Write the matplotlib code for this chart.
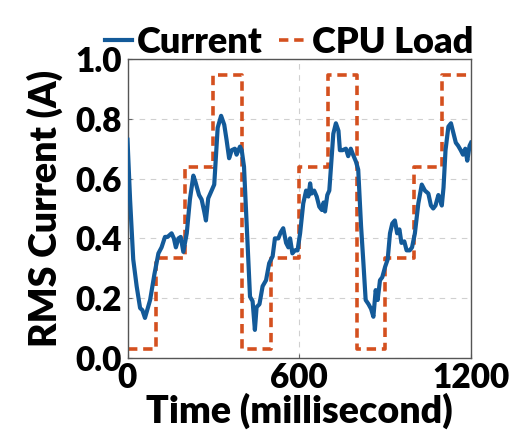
import matplotlib
matplotlib.use("Agg")
import matplotlib.pyplot as plt

# CPU load step levels (each step lasts 100 ms)
load_t = [0, 100, 200, 300, 400, 500, 600, 700, 800, 900, 1000, 1100, 1200]
load_v = [0.03, 0.335, 0.64, 0.945, 0.03, 0.335, 0.64, 0.945, 0.03, 0.335, 0.64, 0.945, 0.945]

# RMS current trace
cur_t = [0, 9, 20, 32, 44, 52, 61, 79, 94, 108, 119, 131, 140, 154, 162, 169, 178, 186, 195,
         207, 218, 230, 237, 250, 259, 268, 274, 282, 294, 303, 308, 315, 327, 338, 346, 355,
         364, 375, 381, 393, 399, 407, 414, 422, 428, 437, 445, 451, 461, 472, 484, 495, 507,
         515, 527, 535, 544, 554, 562, 568, 576, 585, 594, 603, 614, 624, 632, 638, 643, 652,
         661, 670, 679, 685, 690, 698, 705, 711, 719, 728, 737, 742, 751, 763, 771, 780, 788,
         798, 806, 816, 824, 832, 842, 851, 859, 867, 874, 882, 890, 900, 909, 917, 925, 934,
         942, 950, 957, 967, 975, 986, 994, 1004, 1016, 1028, 1039, 1051, 1060, 1068, 1076,
         1086, 1092, 1098, 1104, 1111, 1121, 1130, 1139, 1147, 1155, 1164, 1172, 1180, 1187,
         1195, 1200]
cur_v = [0.73, 0.53, 0.33, 0.24, 0.167, 0.16, 0.134, 0.194, 0.28, 0.35, 0.37, 0.405, 0.405,
         0.417, 0.40, 0.37, 0.40, 0.405, 0.355, 0.417, 0.53, 0.61, 0.59, 0.545, 0.53, 0.49,
         0.46, 0.534, 0.56, 0.58, 0.66, 0.77, 0.81, 0.78, 0.73, 0.668, 0.695, 0.70, 0.68, 0.707,
         0.695, 0.64, 0.495, 0.33, 0.205, 0.19, 0.094, 0.17, 0.18, 0.24, 0.26, 0.317, 0.34,
         0.40, 0.40, 0.42, 0.434, 0.385, 0.37, 0.40, 0.35, 0.36, 0.36, 0.417, 0.517, 0.56, 0.54,
         0.584, 0.55, 0.56, 0.54, 0.506, 0.495, 0.52, 0.49, 0.545, 0.56, 0.64, 0.75, 0.785,
         0.76, 0.695, 0.695, 0.70, 0.675, 0.70, 0.68, 0.657, 0.63, 0.44, 0.32, 0.194, 0.18,
         0.164, 0.138, 0.227, 0.194, 0.26, 0.27, 0.305, 0.33, 0.417, 0.45, 0.46, 0.417, 0.43,
         0.385, 0.39, 0.36, 0.36, 0.37, 0.417, 0.517, 0.58, 0.56, 0.55, 0.51, 0.50, 0.51, 0.545,
         0.53, 0.51, 0.57, 0.695, 0.774, 0.785, 0.75, 0.72, 0.71, 0.695, 0.68, 0.70, 0.66, 0.71,
         0.72]

x_ticks = [0, 600, 1200]
y_ticks = [0.0, 0.2, 0.4, 0.6, 0.8, 1.0]

plt.rcParams['font.family'] = ['Lato', 'DejaVu Sans']
plt.rcParams['font.weight'] = 'heavy'

fig = plt.figure(figsize=(5.13, 4.44), dpi=100)
ax = fig.add_axes([127.5 / 513, 86 / 444, 343.5 / 513, 299 / 444])

ax.plot(cur_t, cur_v, color='#135a99', lw=3.0, label='Current', zorder=3)
ax.step(load_t, load_v, where='post', color='#d4501f', lw=2.6,
        dashes=(2.6, 1.6), label='CPU Load', zorder=2)

ax.set_xlim(0, 1200)
ax.set_ylim(0, 1.0)
ax.set_xticks(x_ticks)
ax.set_yticks(y_ticks)
ax.set_yticklabels([f"{v:.1f}" for v in y_ticks])
ax.grid(True, ls=(0, (5, 5)), color='#d0d0d0', lw=0.8)
ax.set_axisbelow(True)
ax.tick_params(direction='in', length=3, width=0.8, color='#666666', labelsize=24)
ax.tick_params(axis='x', pad=3)
ax.tick_params(axis='y', pad=4)
for s in ax.spines.values():
    s.set_color('#555555')
    s.set_linewidth(1.0)

ax.set_xlabel('Time (millisecond)', fontsize=27, fontweight='heavy', labelpad=-1)
ax.set_ylabel('RMS Current (A)', fontsize=27, fontweight='heavy', labelpad=9)

ax.legend(loc='lower center', bbox_to_anchor=(0.47, 1.0), ncol=2, frameon=False,
          prop={'size': 26, 'weight': 'heavy'}, handlelength=0.75, handletextpad=0.15,
          columnspacing=0.45, borderaxespad=0, borderpad=0)

fig.savefig('out.png', dpi=100)
